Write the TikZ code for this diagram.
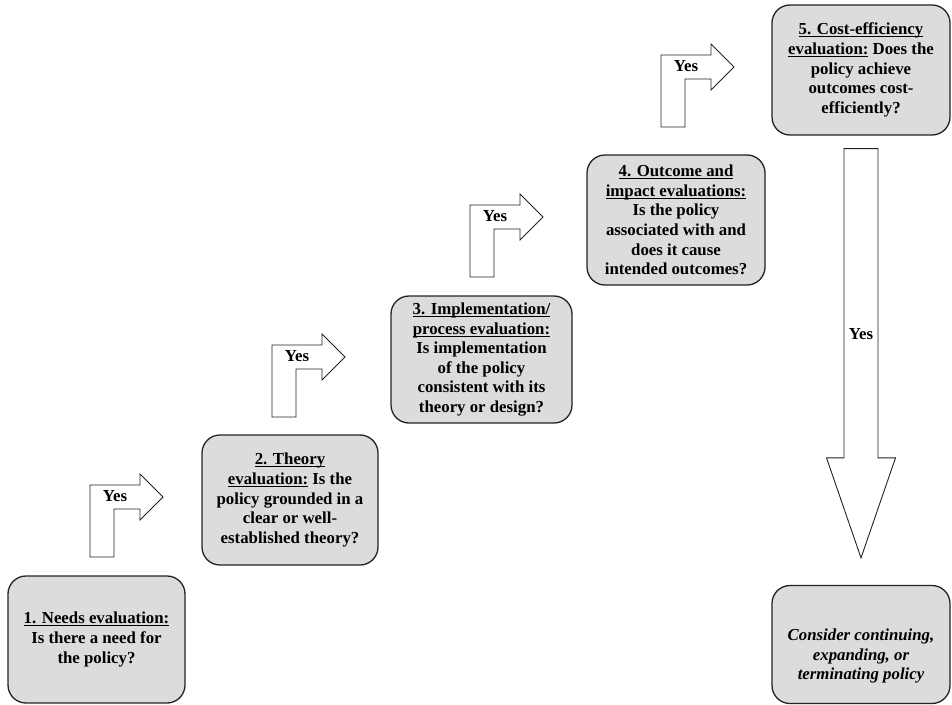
\documentclass[tikz,border=0pt]{standalone}
\usepackage{fontspec}
\setmainfont{Liberation Serif}
\usetikzlibrary{calc}
\definecolor{boxfill}{RGB}{220,220,221}
\definecolor{edge}{RGB}{35,35,35}
% underlined heading: thin rule just below the baseline
\newcommand{\ulh}[1]{\setbox0=\hbox{#1}\rlap{\rule[-2.4pt]{\wd0}{0.9pt}}\box0\relax}

\begin{document}
\begin{tikzpicture}[x=1pt,y=-1pt,
  txt/.style={font=\fontsize{16.8}{19.6}\selectfont\bfseries},
  stage/.style={txt, draw=edge, line width=1.3pt, fill=boxfill,
    rounded corners=18pt, align=center, inner sep=2pt},
  blockarrow/.style={draw=edge, line width=0.9pt, fill=white, line join=miter},
  yeslabel/.style={txt, inner sep=0pt},
  turn/.pic={
    \draw[blockarrow] (0,0) -- (0,-72) -- (50,-72) -- (50,-83) -- (73,-60)
      -- (50,-37) -- (50,-48) -- (24,-48) -- (24,0) -- cycle;
    \node[yeslabel] (-yes) at (25,-61) {Yes};
  }]
\useasboundingbox (0,0) rectangle (952,704);

% evaluation stages
\node[stage, minimum width=177pt, minimum height=127pt] (b1) at (96.5,639.5)
  {\ulh{1. Needs evaluation:}\\ Is there a need for\\ the policy?};
\node[stage, minimum width=176pt, minimum height=130pt] (b2) at (290,500)
  {\ulh{2. Theory}\\ \ulh{evaluation:} Is the\\ policy grounded in a\\ clear or well-\\ established theory?};
\node[stage, minimum width=181pt, minimum height=127pt] (b3) at (481.5,359.5)
  {\ulh{3. Implementation/}\\ \ulh{process evaluation:}\\ Is implementation\\ of the policy\\ consistent with its\\ theory or design?};
\node[stage, minimum width=178pt, minimum height=130pt] (b4) at (676,220)
  {\ulh{4. Outcome and}\\ \ulh{impact evaluations:}\\ Is the policy\\ associated with and\\ does it cause\\ intended outcomes?};
\node[stage, minimum width=178pt, minimum height=130pt] (b5) at (861,70)
  {\ulh{5. Cost-efficiency}\\ \ulh{evaluation:} Does the\\ policy achieve\\ outcomes cost-\\ efficiently?};
\node[stage, minimum width=178pt, minimum height=118pt] (b6) at (861,644.5) {};
\node[txt, align=center, inner sep=0pt] (b6t) at (861,656)
  {\itshape Consider continuing,\\ \itshape expanding, or\\ \itshape terminating policy};

% bent "Yes" arrows between successive stages
\pic (t1) at (90,557) {turn};
\pic (t2) at (272,417) {turn};
\pic (t3) at (470,277) {turn};
\pic (t4) at (661,127) {turn};

% final downward arrow
\coordinate (dtop) at ($(b5.south)+(0,13)$);
\coordinate (dtip) at ($(b6.north)+(0,-27)$);
\draw[blockarrow] ($(dtop)+(-17,0)$) -- ($(dtop)+(17,0)$) -- ($(dtip)+(17,-100)$)
  -- ($(dtip)+(34.5,-100)$) -- (dtip) -- ($(dtip)+(-34.5,-100)$)
  -- ($(dtip)+(-17,-100)$) -- cycle;
\node[yeslabel] (dyes) at (861,334) {Yes};
\end{tikzpicture}
\end{document}
